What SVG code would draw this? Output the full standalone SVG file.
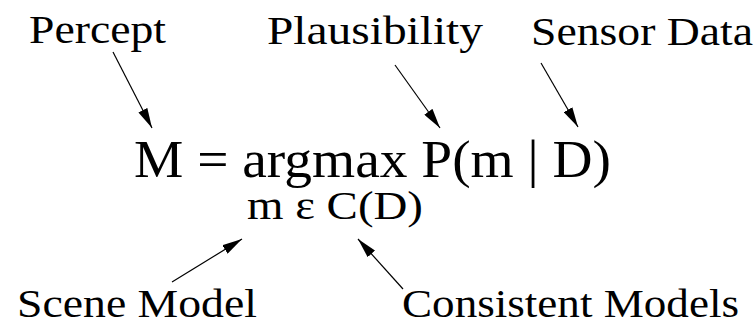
<svg xmlns="http://www.w3.org/2000/svg" width="756" height="328" viewBox="0 0 756 328">
<style>
.lbl{font-size:41px}
.f1{font-size:52px}
.f2{font-size:39px}
.c{stroke:#000;stroke-width:1.2;fill:none;marker-end:url(#ah)}
</style>
<defs>
<marker id="ah" markerUnits="userSpaceOnUse" markerWidth="20" markerHeight="10" refX="20" refY="5" orient="auto">
<path d="M0,0 L20,5 L0,10 z" fill="#000"/>
</marker>
</defs>
<rect width="756" height="328" fill="#fff"/>
<g font-family="Liberation Serif, Times New Roman, serif" fill="#000">
<g id="percept"><text class="lbl" x="29" y="43" textLength="137" lengthAdjust="spacingAndGlyphs">Percept</text></g>
<g id="plausibility"><text class="lbl" x="267" y="44" textLength="216" lengthAdjust="spacingAndGlyphs">Plausibility</text></g>
<g id="sensor-data"><text class="lbl" x="531" y="45" textLength="222" lengthAdjust="spacingAndGlyphs">Sensor Data</text></g>
<g id="formula">
<text class="f1" x="134" y="177" textLength="477" lengthAdjust="spacingAndGlyphs">M = argmax P(m | D)</text>
<text class="f2" x="247" y="219" textLength="176" lengthAdjust="spacingAndGlyphs">m ε C(D)</text>
</g>
<g id="scene-model"><text class="lbl" x="17" y="317" textLength="240" lengthAdjust="spacingAndGlyphs">Scene Model</text></g>
<g id="consistent-models"><text class="lbl" x="402" y="317" textLength="337" lengthAdjust="spacingAndGlyphs">Consistent Models</text></g>
</g>
<g id="connectors">
<line class="c" x1="113" y1="52" x2="152" y2="128"/>
<line class="c" x1="395" y1="65" x2="440" y2="128"/>
<line class="c" x1="541" y1="63" x2="578" y2="127"/>
<line class="c" x1="172" y1="282" x2="242" y2="239"/>
<line class="c" x1="403" y1="289" x2="358" y2="239"/>
</g>
</svg>
